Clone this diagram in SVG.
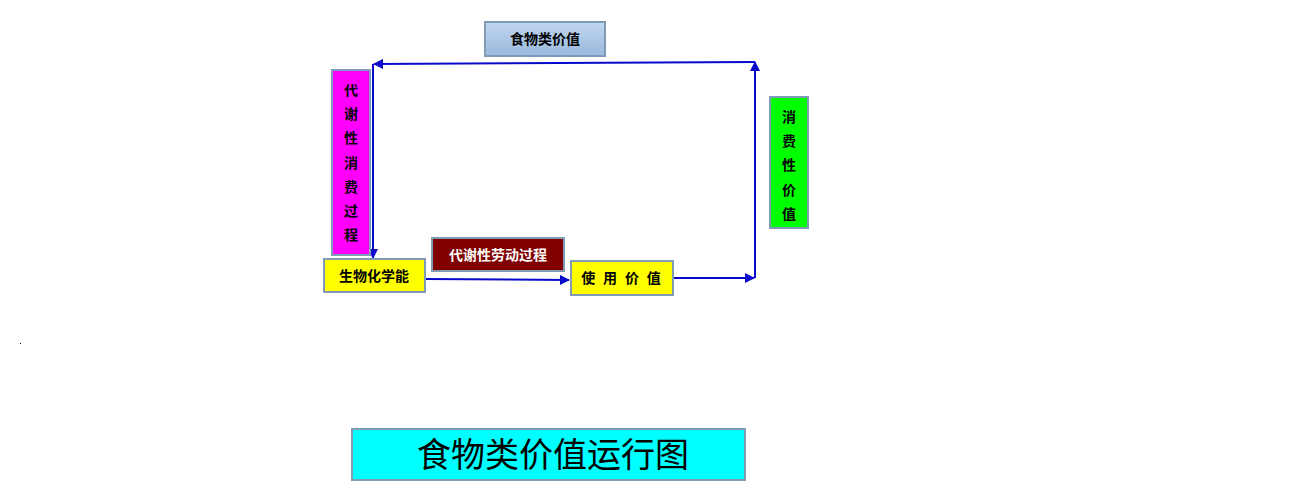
<svg xmlns="http://www.w3.org/2000/svg" width="1303" height="502" viewBox="0 0 1303 502">
<style>
.box{stroke:#7f9bb5;stroke-width:2}
.lbl{font-family:"Liberation Sans","Noto Sans CJK SC",sans-serif;font-size:14px;font-weight:bold;fill:#000;text-anchor:middle}
.conn{fill:none;stroke:#0a0acc;stroke-width:2}
</style>
<defs>
<linearGradient id="g1" x1="0" y1="0" x2="0" y2="1">
<stop offset="0" stop-color="#c0d6ef"/>
<stop offset="1" stop-color="#9ab9de"/>
</linearGradient>
<marker id="ah" viewBox="0 0 10 10" refX="9" refY="5" markerWidth="5" markerHeight="5" orient="auto" markerUnits="strokeWidth">
<path d="M0,0 L10,5 L0,10 z" fill="#0a0acc"/>
</marker>
</defs>
<rect width="1303" height="502" fill="#fff"/>
<g id="connectors">
<path class="conn" d="M425,279 L569,280" marker-end="url(#ah)"/>
<path class="conn" d="M673,278 L754,278" marker-end="url(#ah)"/>
<path class="conn" d="M755,278 L755,62" marker-end="url(#ah)"/>
<path class="conn" d="M755,62 L374,64" marker-end="url(#ah)"/>
<path class="conn" d="M373,64 L373,258" marker-end="url(#ah)"/>
</g>
<g id="food-value">
<rect class="box" x="485" y="22" width="120" height="34" fill="url(#g1)"/>
<text class="lbl" x="545" y="44">食物类价值</text>
</g>
<g id="metabolic-consumption">
<rect class="box" x="332" y="70" width="38" height="185" fill="#ff00ff"/>
<text class="lbl" x="351" y="95">代</text>
<text class="lbl" x="351" y="119">谢</text>
<text class="lbl" x="351" y="143">性</text>
<text class="lbl" x="351" y="168">消</text>
<text class="lbl" x="351" y="192">费</text>
<text class="lbl" x="351" y="216">过</text>
<text class="lbl" x="351" y="240">程</text>
</g>
<g id="biochemical-energy">
<rect class="box" x="324" y="259" width="101" height="33" fill="#ffff00"/>
<text class="lbl" x="374" y="281">生物化学能</text>
</g>
<g id="metabolic-labor">
<rect class="box" x="432" y="238" width="132" height="33" fill="#800000"/>
<text class="lbl" x="498" y="260" style="fill:#fff">代谢性劳动过程</text>
</g>
<g id="use-value">
<rect class="box" x="571" y="261" width="102" height="34" fill="#ffff00"/>
<text class="lbl" x="621" y="283" style="word-spacing:4px">使 用 价 值</text>
</g>
<g id="consumptive-value">
<rect class="box" x="770" y="97" width="38" height="131" fill="#00ff00"/>
<text class="lbl" x="789" y="122">消</text>
<text class="lbl" x="789" y="146">费</text>
<text class="lbl" x="789" y="170">性</text>
<text class="lbl" x="789" y="195">价</text>
<text class="lbl" x="789" y="219">值</text>
</g>
<g id="title">
<rect class="box" x="352" y="429" width="393" height="51" fill="#00ffff"/>
<text x="553" y="467" font-family="'Liberation Sans','Noto Sans CJK SC',sans-serif" font-size="34" text-anchor="middle" fill="#000">食物类价值运行图</text>
</g>
<rect x="20" y="343" width="1" height="1" fill="#000"/>
</svg>
